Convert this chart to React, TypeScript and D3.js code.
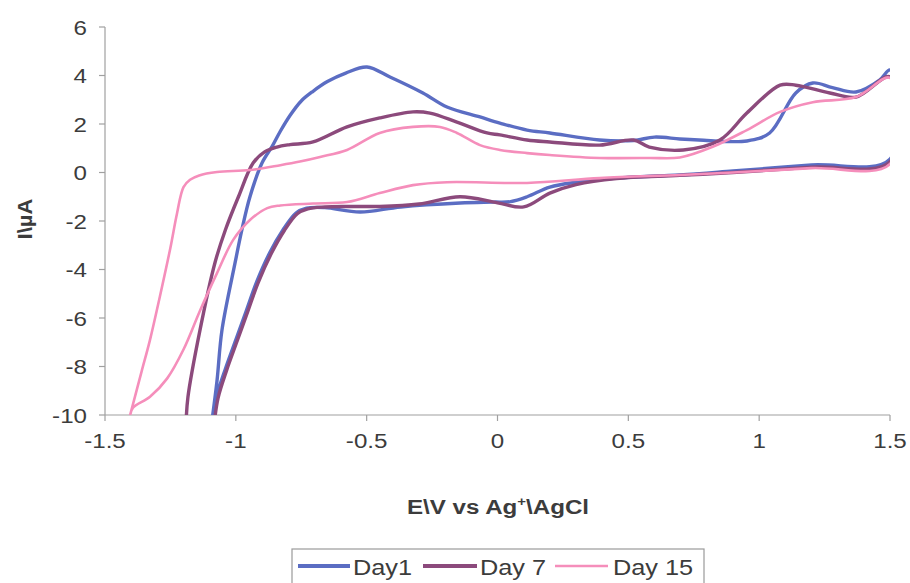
import React from "react";
import * as d3 from "d3";

const xTicks = [-1.5, -1, -0.5, 0, 0.5, 1, 1.5];
const yTicks = [6, 4, 2, 0, -2, -4, -6, -8, -10];
const seriesNames = ["Day1", "Day 7", "Day 15"];
const seriesColors = ["#5B6DC3", "#8C4A7C", "#F58EBB"];
const seriesWidths = [3.4, 3.4, 2.6];

// Each series: anodic branch (left -> right) then cathodic branch (right -> left)
const day1E = [-1.092, -1.072, -1.053, -1.003, -0.977, -0.946, -0.9, -0.86, -0.83, -0.793, -0.75, -0.705, -0.65, -0.58, -0.499, -0.411, -0.285, -0.193, -0.067, 0.009, 0.113, 0.2, 0.39, 0.52, 0.6, 0.697, 0.77, 0.953, 1.04, 1.14, 1.205, 1.28, 1.37, 1.46, 1.5,
  1.5, 1.2, 0.9, 0.697, 0.455, 0.3, 0.2, 0.113, 0.05, -0.017, -0.143, -0.37, -0.525, -0.66, -0.73, -0.77, -0.82, -0.87, -0.92, -0.96, -1.0, -1.04, -1.075, -1.09];
const day1I = [-10.3, -8.6, -6.5, -3.73, -2.37, -1.0, 0.39, 1.1, 1.7, 2.35, 2.95, 3.35, 3.75, 4.1, 4.35, 3.94, 3.28, 2.7, 2.29, 2.04, 1.75, 1.63, 1.34, 1.32, 1.46, 1.38, 1.34, 1.3, 1.63, 3.28, 3.69, 3.5, 3.32, 3.81, 4.23,
  0.55, 0.31, 0.06, -0.1, -0.23, -0.4, -0.6, -1.0, -1.2, -1.22, -1.26, -1.42, -1.63, -1.45, -1.47, -1.67, -2.37, -3.3, -4.5, -5.7, -6.9, -8.1, -9.3, -10.3];

const day7E = [-1.19, -1.183, -1.137, -1.08, -1.04, -0.99, -0.934, -0.89, -0.843, -0.793, -0.705, -0.575, -0.45, -0.323, -0.258, -0.155, -0.04, 0.009, 0.113, 0.2, 0.39, 0.52, 0.58, 0.71, 0.85, 0.953, 1.08, 1.14, 1.27, 1.37, 1.5,
  1.5, 1.2, 0.9, 0.697, 0.455, 0.3, 0.2, 0.1, 0.0, -0.143, -0.3, -0.45, -0.575, -0.66, -0.725, -0.765, -0.815, -0.865, -0.915, -0.955, -0.995, -1.035, -1.068, -1.082];
const day7I = [-10.3, -9.26, -6.5, -3.73, -2.37, -1.0, 0.39, 0.85, 1.05, 1.15, 1.26, 1.88, 2.25, 2.5, 2.45, 2.08, 1.63, 1.55, 1.34, 1.26, 1.13, 1.34, 1.05, 0.93, 1.34, 2.45, 3.6, 3.6, 3.28, 3.11, 3.94,
  0.45, 0.22, 0.0, -0.12, -0.25, -0.5, -0.85, -1.42, -1.25, -1.0, -1.3, -1.4, -1.4, -1.42, -1.5, -1.7, -2.4, -3.35, -4.55, -5.75, -6.95, -8.15, -9.3, -10.3];

const day15E = [-1.404, -1.36, -1.328, -1.29, -1.25, -1.225, -1.2, -1.175, -1.14, -1.072, -0.946, -0.83, -0.755, -0.678, -0.575, -0.45, -0.323, -0.22, -0.155, -0.067, 0.009, 0.113, 0.2, 0.39, 0.58, 0.697, 0.82, 0.953, 1.08, 1.205, 1.37, 1.5,
  1.5, 1.2, 0.9, 0.697, 0.39, 0.113, -0.193, -0.323, -0.45, -0.575, -0.705, -0.83, -0.88, -0.946, -1.01, -1.072, -1.137, -1.2, -1.263, -1.328, -1.393, -1.404];
const day15I = [-10, -8.2, -6.9, -5.1, -3.1, -1.7, -0.6, -0.3, -0.12, 0.02, 0.1, 0.3, 0.45, 0.64, 0.93, 1.63, 1.88, 1.88, 1.63, 1.13, 0.93, 0.8, 0.72, 0.6, 0.6, 0.62, 1.05, 1.75, 2.5, 2.9, 3.11, 3.9,
  0.35, 0.18, 0.0, -0.1, -0.23, -0.43, -0.4, -0.52, -0.85, -1.22, -1.28, -1.36, -1.47, -1.96, -2.78, -4.15, -5.7, -7.3, -8.5, -9.25, -9.7, -10];

const seriesE = [day1E, day7E, day15E];
const seriesI = [day1I, day7I, day15I];

const SX = 1.15; // horizontal stretch of the reference's lettering

export default function App() {
  const W = 910, H = 583;
  const x = d3.scaleLinear().domain([-1.5, 1.5]).range([105, 890]);
  const y = d3.scaleLinear().domain([-10, 6]).range([415, 27]);
  const line = d3.line<[number, number]>()
    .x(d => x(d[0]))
    .y(d => y(d[1]))
    .curve(d3.curveCatmullRom.alpha(0.5));
  const axisColor = "#a0a0a0";
  const textColor = "#3c3c3c";
  const font = "'Liberation Sans', Arial, sans-serif";

  const legendItems = [
    { x0: 298, x1: 350, tx: 353 },
    { x0: 423, x1: 477, tx: 480 },
    { x0: 555, x1: 608, tx: 613 },
  ];

  return (
    <svg width={W} height={H} style={{ position: "absolute", left: 0, top: 0, background: "#fff" }} fontFamily={font}>
      <defs>
        <clipPath id="plot">
          <rect x={x(-1.5)} y={y(6)} width={x(1.5) - x(-1.5)} height={y(-10) - y(6)} />
        </clipPath>
      </defs>
      {/* axes */}
      <line x1={x(-1.5)} x2={x(-1.5)} y1={y(6)} y2={y(-10)} stroke={axisColor} strokeWidth={1.2} />
      <line x1={x(-1.5)} x2={x(1.5)} y1={y(-10)} y2={y(-10)} stroke={axisColor} strokeWidth={1.2} />
      {yTicks.map(t => (
        <g key={"y" + t}>
          <line x1={x(-1.5) - 6} x2={x(-1.5)} y1={y(t)} y2={y(t)} stroke={axisColor} strokeWidth={1.2} />
          <text transform={`translate(87,${y(t)}) scale(${SX},1)`} dy="0.36em" textAnchor="end" fontSize={21} fill={textColor}>{t}</text>
        </g>
      ))}
      {xTicks.map(t => (
        <g key={"x" + t}>
          <line x1={x(t)} x2={x(t)} y1={y(-10)} y2={y(-10) + 6} stroke={axisColor} strokeWidth={1.2} />
          <text transform={`translate(${x(t)},448) scale(${SX},1)`} textAnchor="middle" fontSize={21} fill={textColor}>{t}</text>
        </g>
      ))}
      {/* series */}
      <g clipPath="url(#plot)">
        {seriesE.map((es, i) => {
          const pts: [number, number][] = es.map((e, j) => [e, seriesI[i][j]]);
          return (
            <path key={i} d={line(pts) || ""} fill="none" stroke={seriesColors[i]} strokeWidth={seriesWidths[i]} strokeLinejoin="round" strokeLinecap="round" />
          );
        })}
      </g>
      {/* axis titles */}
      <text transform={`translate(498,514) scale(${SX},1)`} textAnchor="middle" fontSize={21} fontWeight="bold" fill={textColor}>
        E\V vs Ag<tspan dy={-8} fontSize={13}>+</tspan><tspan dy={8}>\AgCl</tspan>
      </text>
      <text transform="translate(32,219) rotate(-90) scale(1.1,1)" textAnchor="middle" fontSize={20} fontWeight="bold" fill={textColor}>I\µA</text>
      {/* legend */}
      <rect x={292} y={549} width={412} height={44} fill="#fff" stroke="#9a9a9a" strokeWidth={1.2} />
      {legendItems.map((it, i) => (
        <g key={"lg" + i}>
          <line x1={it.x0} x2={it.x1} y1={566} y2={566} stroke={seriesColors[i]} strokeWidth={i === 2 ? 2.6 : 3.8} />
          <text transform={`translate(${it.tx},575) scale(${SX},1)`} fontSize={22} fill={textColor}>{seriesNames[i]}</text>
        </g>
      ))}
    </svg>
  );
}
